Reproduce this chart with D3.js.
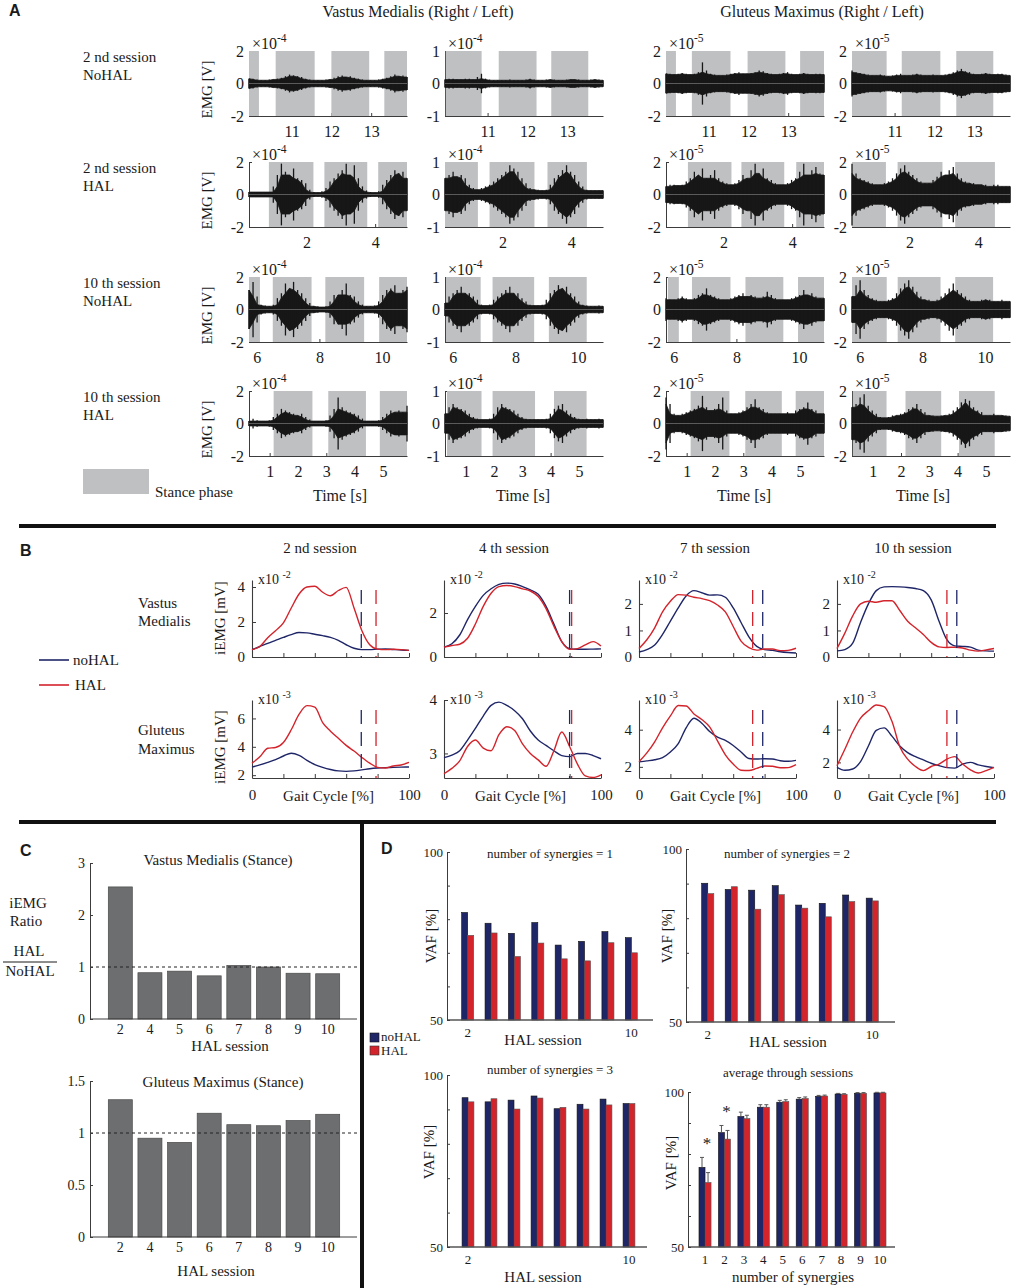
<!DOCTYPE html>
<html>
<head>
<meta charset="utf-8">
<script src="https://cdn.jsdelivr.net/npm/d3@7"></script>
<style>
  body { margin: 0; background: #fff; }
</style>
</head>
<body>
<div id="fig"></div>
<script>
// ---------------- data: panel A (raw EMG, envelope amplitude) ----------------
const emgRowLabels = [["2 nd session", "NoHAL"], ["2 nd session", "HAL"], ["10 th session", "NoHAL"], ["10 th session", "HAL"]];
const emgTimeDomain = [[9.93, 13.9], [0.32, 4.93], [5.75, 10.8], [0.27, 5.85]];
const emgTimeTicks = [[11, 12, 13], [2, 4], [6, 8, 10], [1, 2, 3, 4, 5]];

const stanceVMRight = [
  [[9.93, 10.18], [10.6, 11.58], [12.0, 12.95], [13.33, 13.9]],
  [[0.9, 2.2], [2.52, 3.77], [4.09, 4.93]],
  [[5.75, 6.1], [6.51, 7.75], [8.19, 9.43], [9.91, 10.8]],
  [[1.14, 2.51], [3.07, 4.4], [4.89, 5.85]]
];
const stanceVMLeft = [
  [[9.95, 10.85], [11.28, 12.23], [12.6, 13.53]],
  [[0.32, 1.28], [1.62, 2.93], [3.31, 4.46]],
  [[5.78, 6.89], [7.27, 8.6], [9.07, 10.28]],
  [[0.34, 1.56], [1.95, 3.45], [4.12, 5.27]]
];
const stanceGMRight = [
  [[9.93, 10.18], [10.58, 11.55], [11.98, 12.93], [13.3, 13.9]],
  [[0.96, 2.23], [2.52, 3.77], [4.12, 4.93]],
  [[5.81, 6.16], [6.58, 7.81], [8.29, 9.5], [9.97, 10.8]],
  [[1.14, 2.51], [3.07, 4.36], [4.85, 5.85]]
];
const stanceGMLeft = [
  [[9.93, 10.8], [11.18, 12.15], [12.55, 13.48]],
  [[0.32, 1.31], [1.65, 2.96], [3.33, 4.49]],
  [[5.75, 6.86], [7.21, 8.58], [9.05, 10.26]],
  [[0.3, 1.49], [2.16, 3.42], [4.05, 5.31]]
];

const envVMRight = [
  [0.3,0.3,0.25,0.2,0.2,0.25,0.25,0.3,0.35,0.45,0.55,0.5,0.45,0.4,0.3,0.25,0.2,0.2,0.2,0.25,0.25,0.35,0.45,0.5,0.4,0.45,0.35,0.3,0.25,0.2,0.2,0.2,0.25,0.3,0.35,0.45,0.55,0.45,0.5,0.4],
  [0.15,0.15,0.15,0.15,0.15,0.15,0.5,1.2,1.9,1.4,1.2,1.6,1.0,0.9,0.7,0.3,0.15,0.12,0.2,0.4,0.8,1.0,1.3,1.5,1.9,1.2,1.8,1.0,0.5,0.25,0.15,0.12,0.2,0.6,0.9,1.2,1.5,1.3,1.4,1.0],
  [1.2,1.7,0.8,0.3,0.25,0.2,0.3,0.7,1.0,1.6,1.3,1.7,1.2,1.0,0.7,0.4,0.2,0.2,0.15,0.2,0.5,0.9,0.9,1.2,1.6,0.9,0.8,0.5,0.3,0.2,0.2,0.25,0.5,0.9,1.2,1.3,1.5,1.0,1.2,1.4],
  [0.15,0.3,0.2,0.15,0.15,0.2,0.4,0.6,0.9,0.8,0.7,0.6,0.5,0.6,0.4,0.25,0.15,0.15,0.15,0.2,0.5,0.9,1.6,1.0,0.8,0.7,0.6,0.5,0.3,0.15,0.15,0.15,0.2,0.4,0.6,0.8,0.7,0.8,0.7,1.1]
];
const envVMLeft = [
  [0.12,0.15,0.15,0.12,0.12,0.15,0.15,0.12,0.2,0.3,0.15,0.12,0.1,0.1,0.1,0.1,0.12,0.1,0.1,0.1,0.12,0.15,0.12,0.1,0.1,0.12,0.12,0.12,0.1,0.1,0.12,0.12,0.12,0.12,0.1,0.1,0.12,0.12,0.12,0.1],
  [0.5,0.6,0.7,0.55,0.6,0.5,0.3,0.2,0.15,0.2,0.25,0.3,0.4,0.5,0.6,0.7,0.9,0.8,0.7,0.5,0.35,0.2,0.15,0.15,0.12,0.15,0.3,0.5,0.6,0.75,0.9,0.7,0.6,0.4,0.25,0.15,0.12,0.12,0.12,0.12],
  [0.2,0.4,0.5,0.6,0.7,0.5,0.5,0.4,0.3,0.15,0.12,0.15,0.3,0.4,0.5,0.6,0.7,0.5,0.5,0.35,0.25,0.15,0.12,0.12,0.15,0.3,0.5,0.6,0.75,0.65,0.7,0.5,0.4,0.25,0.15,0.12,0.1,0.1,0.12,0.1],
  [0.3,0.5,0.6,0.5,0.45,0.4,0.3,0.2,0.15,0.12,0.12,0.15,0.3,0.5,0.6,0.5,0.45,0.4,0.3,0.2,0.15,0.12,0.12,0.12,0.12,0.15,0.3,0.45,0.55,0.6,0.4,0.3,0.2,0.15,0.12,0.15,0.12,0.12,0.15,0.12]
];
const envGMRight = [
  [0.6,0.6,0.55,0.6,0.65,0.6,0.55,0.6,0.7,1.3,0.8,0.6,0.55,0.5,0.5,0.55,0.6,0.65,0.7,0.6,0.6,0.65,0.7,0.8,0.75,0.65,0.6,0.55,0.6,0.65,0.7,0.6,0.55,0.6,0.65,0.6,0.55,0.6,0.6,0.55],
  [0.5,0.6,0.6,0.55,0.6,0.8,1.0,1.4,1.2,1.6,1.0,1.2,1.5,1.0,0.8,0.7,0.6,0.7,0.9,1.2,1.0,1.5,1.9,1.3,1.6,1.0,0.9,0.7,0.6,0.6,0.7,0.9,1.0,1.4,1.9,1.2,1.5,1.7,1.3,1.2],
  [0.7,0.6,0.6,0.7,0.8,0.7,0.6,0.7,0.9,1.0,1.3,0.9,0.8,0.7,0.6,0.6,0.7,0.8,0.9,1.0,0.8,0.9,0.8,0.7,0.8,1.1,0.9,0.7,0.6,0.6,0.6,0.7,0.8,0.9,1.2,0.9,1.0,0.8,0.7,0.7],
  [1.6,1.2,0.6,0.5,0.6,0.7,0.8,0.9,1.1,1.7,1.0,0.8,0.9,1.2,1.6,0.8,0.6,0.6,0.7,0.8,1.0,1.2,1.5,1.0,0.9,0.7,0.6,0.6,0.6,0.6,0.7,0.6,0.8,0.9,1.0,1.3,0.9,0.8,0.6,0.6]
];
const envGMLeft = [
  [0.8,0.7,0.65,0.6,0.55,0.5,0.5,0.55,0.5,0.45,0.5,0.55,0.6,0.5,0.5,0.55,0.6,0.55,0.5,0.5,0.55,0.5,0.5,0.55,0.6,0.7,0.8,0.9,0.75,0.7,0.6,0.55,0.6,0.65,0.6,0.55,0.6,0.6,0.55,0.5],
  [1.9,1.3,1.0,0.9,0.8,0.7,0.6,0.6,0.7,0.8,1.0,1.3,1.6,1.8,1.4,1.2,1.0,0.8,0.7,0.7,0.9,1.1,1.4,1.2,1.5,1.7,1.3,1.0,0.8,0.7,0.7,0.6,0.6,0.6,0.5,0.6,0.6,0.5,0.5,0.5],
  [0.8,1.5,1.8,1.2,0.9,0.7,0.6,0.5,0.5,0.6,0.7,1.0,1.3,1.6,1.8,1.4,1.1,0.8,0.6,0.6,0.5,0.6,0.8,1.0,1.3,1.6,1.2,1.0,0.8,0.6,0.5,0.5,0.6,0.6,0.6,0.5,0.5,0.6,0.5,0.5],
  [1.0,1.2,1.6,1.8,1.1,0.8,0.6,0.4,0.35,0.4,0.5,0.5,0.6,0.7,0.9,1.0,1.2,0.9,0.7,0.5,0.5,0.45,0.5,0.5,0.6,0.8,1.0,1.3,1.5,1.4,1.0,0.8,0.7,0.5,0.5,0.6,0.5,0.5,0.5,0.45]
];

// ---------------- data: panel B (iEMG over gait cycle) ----------------
const gaitPct = [0,5,10,15,20,25,30,35,40,45,50,55,60,65,70,75,80,85,90,95,100];
const bSessions = ["2 nd session", "4 th session", "7 th session", "10 th session"];
const vm2NoHAL = [0.42,0.6,0.78,0.95,1.12,1.28,1.4,1.38,1.3,1.22,1.12,0.95,0.7,0.5,0.42,0.42,0.45,0.46,0.43,0.4,0.38];
const vm2HAL   = [0.42,0.6,1.1,1.5,1.95,2.8,3.6,4.0,4.04,3.7,3.5,3.8,3.98,2.8,1.5,0.7,0.45,0.42,0.44,0.42,0.38];
const gm2NoHAL = [2.57,2.72,2.9,3.1,3.35,3.55,3.4,3.05,2.75,2.55,2.4,2.3,2.27,2.3,2.37,2.45,2.5,2.53,2.55,2.57,2.58];
const gm2HAL   = [2.85,3.3,3.9,3.95,4.3,5.2,6.3,6.9,6.8,5.7,5.1,4.6,4.1,3.7,3.25,2.85,2.55,2.5,2.65,2.72,2.9];
const vm4NoHAL = [0.45,0.6,1.0,1.7,2.3,2.8,3.1,3.3,3.36,3.32,3.2,3.05,2.85,2.3,1.5,0.7,0.38,0.35,0.35,0.36,0.37];
const vm4HAL   = [0.45,0.52,0.58,0.85,1.5,2.3,2.9,3.2,3.25,3.2,3.1,3.0,2.75,2.2,1.4,0.7,0.35,0.38,0.55,0.7,0.5];
const gm4NoHAL = [2.92,2.97,3.05,3.25,3.47,3.7,3.9,3.96,3.9,3.8,3.65,3.42,3.25,3.15,3.05,2.96,2.94,3.0,3.0,2.96,2.9];
const gm4HAL   = [2.62,2.72,2.86,3.13,3.25,3.1,3.05,3.35,3.5,3.43,3.18,3.0,2.88,2.76,3.05,3.4,3.13,2.8,2.58,2.55,2.6];
const vm7NoHAL = [0.19,0.28,0.45,0.85,1.35,1.85,2.3,2.5,2.42,2.33,2.34,2.25,1.85,1.3,0.76,0.4,0.28,0.25,0.2,0.17,0.15];
const vm7HAL   = [0.32,0.65,1.1,1.7,2.1,2.35,2.33,2.25,2.2,2.12,1.96,1.7,1.15,0.6,0.35,0.26,0.3,0.3,0.24,0.25,0.33];
const gm7NoHAL = [2.27,2.32,2.38,2.5,2.8,3.25,4.1,4.62,4.35,3.9,3.6,3.42,3.15,2.8,2.45,2.42,2.44,2.42,2.33,2.3,2.35];
const gm7HAL   = [2.27,2.75,3.35,4.1,4.74,5.3,5.28,4.85,4.55,4.15,3.4,2.65,2.15,1.82,1.8,1.92,2.05,2.03,1.95,1.96,2.12];
const vm10NoHAL = [0.23,0.28,0.52,1.3,2.0,2.5,2.64,2.65,2.64,2.62,2.58,2.5,2.15,1.35,0.65,0.42,0.4,0.37,0.26,0.23,0.22];
const vm10HAL   = [0.32,0.9,1.55,2.0,2.1,2.06,2.12,2.12,1.75,1.35,1.1,0.85,0.55,0.38,0.36,0.37,0.34,0.26,0.22,0.27,0.32];
const gm10NoHAL = [1.7,1.52,1.6,2.05,3.0,3.95,4.1,3.6,3.0,2.6,2.35,2.15,1.95,1.8,1.68,1.65,1.9,2.0,1.85,1.75,1.68];
const gm10HAL   = [1.8,2.8,3.85,4.7,5.15,5.5,5.4,4.5,2.95,2.2,1.75,1.5,1.75,1.9,2.2,2.35,1.9,1.55,1.35,1.5,1.7];
const stanceEndNoHAL = [69.6, 80, 78.8, 76.3];
const stanceEndHAL = [79, 81.3, 72.4, 70];
const vmDomain = [[0, 4.4], [0, 3.5], [0, 2.9], [0, 2.9]];
const gmDomain = [[1.8, 7.3], [2.54, 4.0], [1.4, 5.6], [1.05, 5.8]];
const vmTicks = [[0, 2, 4], [0, 2], [0, 1, 2], [0, 1, 2]];
const gmTicks = [[2, 4, 6], [3, 4], [2, 4], [2, 4]];

// ---------------- data: panel C (iEMG ratio HAL / NoHAL) ----------------
const halSessions = [2, 4, 5, 6, 7, 8, 9, 10];
const ratioVM = [2.54, 0.89, 0.92, 0.83, 1.03, 1.0, 0.88, 0.87];
const ratioGM = [1.32, 0.95, 0.91, 1.19, 1.08, 1.07, 1.12, 1.18];

// ---------------- data: panel D (VAF) ----------------
const vaf1NoHAL = [82.0, 78.8, 75.8, 79.0, 72.3, 73.4, 76.3, 74.5];
const vaf1HAL   = [75.2, 75.9, 68.9, 72.9, 68.2, 67.6, 73.0, 70.0];
const vaf2NoHAL = [90.1, 88.3, 88.1, 89.4, 83.8, 84.3, 86.7, 85.8];
const vaf2HAL   = [87.1, 89.1, 82.6, 86.8, 82.9, 80.4, 84.8, 85.0];
const vaf3NoHAL = [93.4, 92.2, 92.7, 93.9, 90.2, 91.5, 93.0, 91.7];
const vaf3HAL   = [92.2, 93.1, 90.1, 93.3, 90.6, 90.1, 91.3, 91.7];
const synergyCounts = [1, 2, 3, 4, 5, 6, 7, 8, 9, 10];
const avgNoHAL = [75.7, 86.9, 92.1, 95.1, 96.7, 97.7, 98.6, 99.35, 99.6, 99.7];
const avgHAL   = [70.8, 84.8, 91.4, 95.1, 96.9, 97.9, 98.7, 99.25, 99.6, 99.7];
const errNoHAL = [3.2, 2.3, 1.4, 0.8, 0.6, 0.5, 0.3, 0.2, 0.2, 0.2];
const errHAL   = [3.2, 2.8, 1.1, 0.8, 0.6, 0.5, 0.3, 0.2, 0.2, 0.2];
const significant = [1, 2];

// ---------------- setup ----------------
const SERIF = '"Liberation Serif","Times New Roman",serif';
const SANS = '"Liberation Sans",Arial,sans-serif';
const NAVY = "#1f2668", RED = "#d3232b";
const INK = "#1a1a1a";

const svg = d3.select("#fig").append("svg")
  .attr("width", 1012).attr("height", 1288)
  .style("display", "block");

function label(g, x, y, s, o = {}) {
  return g.append("text")
    .attr("x", x).attr("y", y)
    .attr("font-family", o.family || SERIF)
    .attr("font-size", o.size || 15)
    .attr("font-weight", o.weight || null)
    .attr("text-anchor", o.anchor || "start")
    .attr("fill", o.fill || INK)
    .attr("transform", o.rotate ? `rotate(-90,${x},${y})` : null)
    .text(s);
}

function expLabel(g, x, y, base, exp, size) {
  const t = g.append("text").attr("x", x).attr("y", y)
    .attr("font-family", SERIF).attr("font-size", size).attr("fill", INK);
  t.append("tspan").text(base);
  t.append("tspan").attr("dy", -size * 0.45).attr("font-size", size * 0.72).text(exp);
}

function styleAxis(a, size) {
  a.attr("font-family", SERIF).attr("font-size", size).attr("color", "#3c3c3c");
  a.selectAll("text").attr("fill", INK);
  return a;
}

// ---------------- Panel A ----------------
label(svg, 9, 16, "A", { family: SANS, weight: "bold", size: 16 });
label(svg, 418, 17, "Vastus Medialis (Right / Left)", { anchor: "middle", size: 16 });
label(svg, 822, 17, "Gluteus Maximus (Right / Left)", { anchor: "middle", size: 16 });

const aCols = [
  { x: 249, yMax: 2, exp: "-4", stance: stanceVMRight, env: envVMRight, timeX: 340 },
  { x: 445, yMax: 1, exp: "-4", stance: stanceVMLeft, env: envVMLeft, timeX: 523 },
  { x: 666, yMax: 2, exp: "-5", stance: stanceGMRight, env: envGMRight, timeX: 744 },
  { x: 852, yMax: 2, exp: "-5", stance: stanceGMLeft, env: envGMLeft, timeX: 923 }
];
const aRowTop = [51, 162, 277, 391], aW = 158, aH = 65;

aRowTop.forEach((top, ri) => {
  label(svg, 83, top + 11, emgRowLabels[ri][0], { size: 15 });
  label(svg, 83, top + 29, emgRowLabels[ri][1], { size: 15 });
  label(svg, 212, top + aH / 2 + 6, "EMG [V]", { size: 15, anchor: "middle", rotate: true });
});

aCols.forEach(c => {
  aRowTop.forEach((top, ri) => {
    const dom = emgTimeDomain[ri];
    const x = d3.scaleLinear().domain(dom).range([c.x, c.x + aW]);
    const y = d3.scaleLinear().domain([-c.yMax, c.yMax]).range([top + aH, top]);
    const g = svg.append("g");

    styleAxis(g.append("g").attr("transform", `translate(0,${top + aH})`)
      .call(d3.axisBottom(x).tickValues(emgTimeTicks[ri]).tickSize(-3).tickSizeOuter(0)
        .tickPadding(10).tickFormat(d => d)), 16);
    styleAxis(g.append("g").attr("transform", `translate(${c.x},0)`)
      .call(d3.axisLeft(y).tickValues([-c.yMax, 0, c.yMax]).tickSize(-3).tickSizeOuter(0)
        .tickPadding(5).tickFormat(d => String(d))), 16);

    g.selectAll("rect.stance").data(c.stance[ri]).join("rect")
      .attr("class", "stance")
      .attr("x", d => x(d[0])).attr("width", d => x(d[1]) - x(d[0]))
      .attr("y", top).attr("height", aH)
      .attr("fill", "#bfc0c2");

    // dense core of the signal (local minimum of the envelope) + one spike per sample
    const env = c.env[ri];
    const dt = (dom[1] - dom[0]) / (env.length - 1);
    const tx = i => x(dom[0] + i * dt);
    const core = env.map((a, i) => Math.min(a, env[Math.max(0, i - 1)], env[Math.min(env.length - 1, i + 1)]));
    g.append("path").datum(core)
      .attr("d", d3.area().x((d, i) => tx(i)).y0(d => y(-d)).y1(d => y(d)))
      .attr("fill", "#171717").attr("stroke", "#171717").attr("stroke-width", 0.8);
    g.selectAll("line.spike").data(env).join("line")
      .attr("class", "spike")
      .attr("x1", (d, i) => tx(i)).attr("x2", (d, i) => tx(i))
      .attr("y1", d => y(d)).attr("y2", d => y(-d))
      .attr("stroke", "#171717").attr("stroke-width", 1.3);

    g.append("line")
      .attr("x1", c.x).attr("x2", c.x + aW)
      .attr("y1", y(0)).attr("y2", y(0))
      .attr("stroke", "#8a8a8a").attr("stroke-width", 0.6);

    expLabel(g, c.x + 3, top - 2, "\u00d710", c.exp, 16);
  });
  label(svg, c.timeX, 501, "Time [s]", { anchor: "middle", size: 16 });
});

svg.append("rect").attr("x", 83).attr("y", 469).attr("width", 66).attr("height", 25).attr("fill", "#bfc0c2");
label(svg, 155, 497, "Stance phase", { size: 15 });

// separators
svg.append("rect").attr("x", 19).attr("y", 524).attr("width", 977).attr("height", 4).attr("fill", "#111");
svg.append("rect").attr("x", 19).attr("y", 820).attr("width", 977).attr("height", 4).attr("fill", "#111");
svg.append("rect").attr("x", 360).attr("y", 822).attr("width", 4).attr("height", 466).attr("fill", "#111");

// ---------------- Panel B ----------------
label(svg, 20, 556, "B", { family: SANS, weight: "bold", size: 16 });
const bColX = [252, 444, 639, 837], bW = 157;
const bTitleX = [320, 514, 715, 913];
const bVM = [[vm2NoHAL, vm2HAL], [vm4NoHAL, vm4HAL], [vm7NoHAL, vm7HAL], [vm10NoHAL, vm10HAL]];
const bGM = [[gm2NoHAL, gm2HAL], [gm4NoHAL, gm4HAL], [gm7NoHAL, gm7HAL], [gm10NoHAL, gm10HAL]];
const bRows = [
  { top: 580, bottom: 657, series: bVM, domain: vmDomain, ticks: vmTicks, exp: "-2", xLabels: false },
  { top: 700, bottom: 778, series: bGM, domain: gmDomain, ticks: gmTicks, exp: "-3", xLabels: true }
];

label(svg, 138, 608, "Vastus", { size: 15 });
label(svg, 138, 626, "Medialis", { size: 15 });
label(svg, 138, 735, "Gluteus", { size: 15 });
label(svg, 138, 754, "Maximus", { size: 15 });
label(svg, 225, 618, "iEMG [mV]", { size: 15, anchor: "middle", rotate: true });
label(svg, 225, 747, "iEMG [mV]", { size: 15, anchor: "middle", rotate: true });

svg.append("line").attr("x1", 39).attr("x2", 69).attr("y1", 660).attr("y2", 660).attr("stroke", NAVY).attr("stroke-width", 1.6);
label(svg, 73, 665, "noHAL", { size: 15 });
svg.append("line").attr("x1", 39).attr("x2", 69).attr("y1", 685).attr("y2", 685).attr("stroke", RED).attr("stroke-width", 1.6);
label(svg, 75, 690, "HAL", { size: 15 });

bSessions.forEach((s, si) => {
  label(svg, bTitleX[si], 553, s, { anchor: "middle", size: 15 });
  const x = d3.scaleLinear().domain([0, 100]).range([bColX[si], bColX[si] + bW]);
  bRows.forEach(r => {
    const y = d3.scaleLinear().domain(r.domain[si]).range([r.bottom, r.top]);
    const g = svg.append("g");
    styleAxis(g.append("g").attr("transform", `translate(0,${r.bottom})`)
      .call(d3.axisBottom(x).tickValues([0, 20, 40, 60, 80, 100]).tickSize(-4).tickSizeOuter(0)
        .tickPadding(11).tickFormat(d => r.xLabels && (d === 0 || d === 100) ? d : "")), 15);
    styleAxis(g.append("g").attr("transform", `translate(${bColX[si]},0)`)
      .call(d3.axisLeft(y).tickValues(r.ticks[si]).tickSize(-4).tickSizeOuter(0)
        .tickPadding(7).tickFormat(d => d)), 15);
    g.selectAll(".domain").attr("stroke-width", 1.1);

    const line = d3.line().x((d, i) => x(gaitPct[i])).y(d => y(d)).curve(d3.curveMonotoneX);
    [[r.series[si][0], NAVY], [r.series[si][1], RED]].forEach(([arr, col]) => {
      g.append("path").datum(arr).attr("d", line)
        .attr("fill", "none").attr("stroke", col).attr("stroke-width", 1.4);
    });
    [[stanceEndNoHAL[si], NAVY], [stanceEndHAL[si], RED]].forEach(([v, col]) => {
      g.append("line").attr("x1", x(v)).attr("x2", x(v))
        .attr("y1", r.top + 10).attr("y2", r.bottom)
        .attr("stroke", col).attr("stroke-width", 1.3).attr("stroke-dasharray", "14,8");
    });
    expLabel(g, bColX[si] + 6, r.top + 4, "x10 ", r.exp, 14);
    if (r.xLabels) label(g, bColX[si] + bW / 2 - 2, 801, "Gait Cycle [%]", { anchor: "middle", size: 15 });
  });
});

// ---------------- Panel C ----------------
label(svg, 20, 856, "C", { family: SANS, weight: "bold", size: 16 });
label(svg, 28, 908, "iEMG", { anchor: "middle", size: 15 });
label(svg, 26, 926, "Ratio", { anchor: "middle", size: 15 });
label(svg, 29, 956, "HAL", { anchor: "middle", size: 15 });
svg.append("line").attr("x1", 3).attr("x2", 57).attr("y1", 962).attr("y2", 962).attr("stroke", INK).attr("stroke-width", 1);
label(svg, 30, 976, "NoHAL", { anchor: "middle", size: 15 });

const cPlots = [
  { top: 863, bottom: 1019, domain: [0, 3], ticks: [0, 1, 2, 3], values: ratioVM,
    title: "Vastus Medialis (Stance)", titleX: 218, titleY: 865, xlabY: 1051, xlabX: 230 },
  { top: 1081, bottom: 1237, domain: [0, 1.5], ticks: [0, 0.5, 1, 1.5], values: ratioGM,
    title: "Gluteus Maximus (Stance)", titleX: 223, titleY: 1087, xlabY: 1276, xlabX: 216 }
];
cPlots.forEach(p => {
  const x = d3.scaleBand().domain(halSessions).range([105.5, 342.5]).paddingInner(0.19).paddingOuter(0.095);
  const y = d3.scaleLinear().domain(p.domain).range([p.bottom, p.top]);
  const g = svg.append("g");
  g.selectAll("rect").data(p.values).join("rect")
    .attr("x", (d, i) => x(halSessions[i])).attr("width", x.bandwidth())
    .attr("y", d => y(d)).attr("height", d => p.bottom - y(d))
    .attr("fill", "#6d6e70").attr("stroke", "#4a4a4a").attr("stroke-width", 0.7);
  g.append("line").attr("x1", 90).attr("x2", 357).attr("y1", y(1)).attr("y2", y(1))
    .attr("stroke", "#222").attr("stroke-width", 1).attr("stroke-dasharray", "3,3");
  const xa = styleAxis(g.append("g").attr("transform", `translate(0,${p.bottom})`)
    .call(d3.axisBottom(x).tickSize(0).tickPadding(5)), 14);
  xa.select(".domain").attr("d", `M90,0H357`);
  styleAxis(g.append("g").attr("transform", "translate(90,0)")
    .call(d3.axisLeft(y).tickValues(p.ticks).tickSize(-3).tickSizeOuter(0).tickPadding(5).tickFormat(d => d)), 14);
  label(g, p.titleX, p.titleY, p.title, { anchor: "middle", size: 15 });
  label(g, p.xlabX, p.xlabY, "HAL session", { anchor: "middle", size: 15 });
});

// ---------------- Panel D ----------------
label(svg, 381, 854, "D", { family: SANS, weight: "bold", size: 16 });
svg.append("rect").attr("x", 370).attr("y", 1033).attr("width", 9).attr("height", 9).attr("fill", NAVY).attr("stroke", "#111").attr("stroke-width", 0.6);
svg.append("rect").attr("x", 370).attr("y", 1046).attr("width", 9).attr("height", 9).attr("fill", RED).attr("stroke", "#333").attr("stroke-width", 0.6);
label(svg, 381, 1041, "noHAL", { size: 13 });
label(svg, 381, 1055, "HAL", { size: 13 });

const dPlots = [
  { axisX: 447, right: 653, top: 852, bottom: 1020, band: [456, 643], pad: 0.485, cats: halSessions,
    a: vaf1NoHAL, b: vaf1HAL, title: "number of synergies = 1", titleX: 550, titleY: 858,
    xlab: "HAL session", xlabX: 543, xlabY: 1045, vafY: 936, vafX: 436, only: [2, 10] },
  { axisX: 686, right: 895, top: 849, bottom: 1022, band: [696, 884], pad: 0.485, cats: halSessions,
    a: vaf2NoHAL, b: vaf2HAL, title: "number of synergies = 2", titleX: 787, titleY: 858,
    xlab: "HAL session", xlabX: 788, xlabY: 1047, vafY: 936, vafX: 672, only: [2, 10] },
  { axisX: 447, right: 647, top: 1075, bottom: 1247, band: [456.5, 640.5], pad: 0.485, cats: halSessions,
    a: vaf3NoHAL, b: vaf3HAL, title: "number of synergies = 3", titleX: 550, titleY: 1074,
    xlab: "HAL session", xlabX: 543, xlabY: 1282, vafY: 1152, vafX: 434, only: [2, 10] },
  { axisX: 688, right: 895, top: 1092, bottom: 1247, band: [695.3, 889.7], pad: 0.38, cats: synergyCounts,
    a: avgNoHAL, b: avgHAL, ea: errNoHAL, eb: errHAL, title: "average through sessions", titleX: 788, titleY: 1077,
    xlab: "number of synergies", xlabX: 793, xlabY: 1282, vafY: 1163, vafX: 676, only: null }
];

dPlots.forEach(p => {
  const x = d3.scaleBand().domain(p.cats).range(p.band).paddingInner(p.pad).paddingOuter(p.pad / 2);
  const x1 = d3.scaleBand().domain(["noHAL", "HAL"]).range([0, x.bandwidth()]);
  const y = d3.scaleLinear().domain([50, 100]).range([p.bottom, p.top]);
  const g = svg.append("g");

  [["noHAL", p.a, NAVY, "#111"], ["HAL", p.b, RED, "#555"]].forEach(([key, vals, col, edge]) => {
    g.selectAll(null).data(vals).join("rect")
      .attr("x", (d, i) => x(p.cats[i]) + x1(key)).attr("width", x1.bandwidth())
      .attr("y", d => y(d)).attr("height", d => p.bottom - y(d))
      .attr("fill", col).attr("stroke", edge).attr("stroke-width", 0.6);
  });

  if (p.ea) {
    [["noHAL", p.a, p.ea], ["HAL", p.b, p.eb]].forEach(([key, vals, errs]) => {
      vals.forEach((v, i) => {
        const cx = x(p.cats[i]) + x1(key) + x1.bandwidth() / 2;
        g.append("path")
          .attr("d", `M${cx},${y(v)}V${y(v + errs[i])}M${cx - 2},${y(v + errs[i])}H${cx + 2}`)
          .attr("stroke", "#555").attr("stroke-width", 1).attr("fill", "none");
      });
    });
    significant.forEach(k => {
      const i = p.cats.indexOf(k);
      const top = y(p.a[i] + p.ea[i]);
      label(g, x(k) + x.bandwidth() / 2 + 2, top - 8, "*", { anchor: "middle", size: 17 });
    });
  }

  const xa = styleAxis(g.append("g").attr("transform", `translate(0,${p.bottom})`)
    .call(d3.axisBottom(x).tickSize(0).tickPadding(8)
      .tickFormat(d => (!p.only || p.only.includes(d)) ? d : "")), 13);
  xa.select(".domain").attr("d", `M${p.axisX},0H${p.right}`).attr("stroke", "#555").attr("stroke-width", 1.3);
  styleAxis(g.append("g").attr("transform", `translate(${p.axisX},0)`)
    .call(d3.axisLeft(y).tickValues([50, 60, 70, 80, 90, 100]).tickSize(-3).tickSizeOuter(0)
      .tickPadding(4).tickFormat(d => (d === 50 || d === 100) ? d : "")), 13);

  label(g, p.titleX, p.titleY, p.title, { anchor: "middle", size: 13 });
  label(g, p.xlabX, p.xlabY, p.xlab, { anchor: "middle", size: 15 });
  label(g, p.vafX, p.vafY, "VAF [%]", { anchor: "middle", size: 15, rotate: true });
});
</script>
</body>
</html>
